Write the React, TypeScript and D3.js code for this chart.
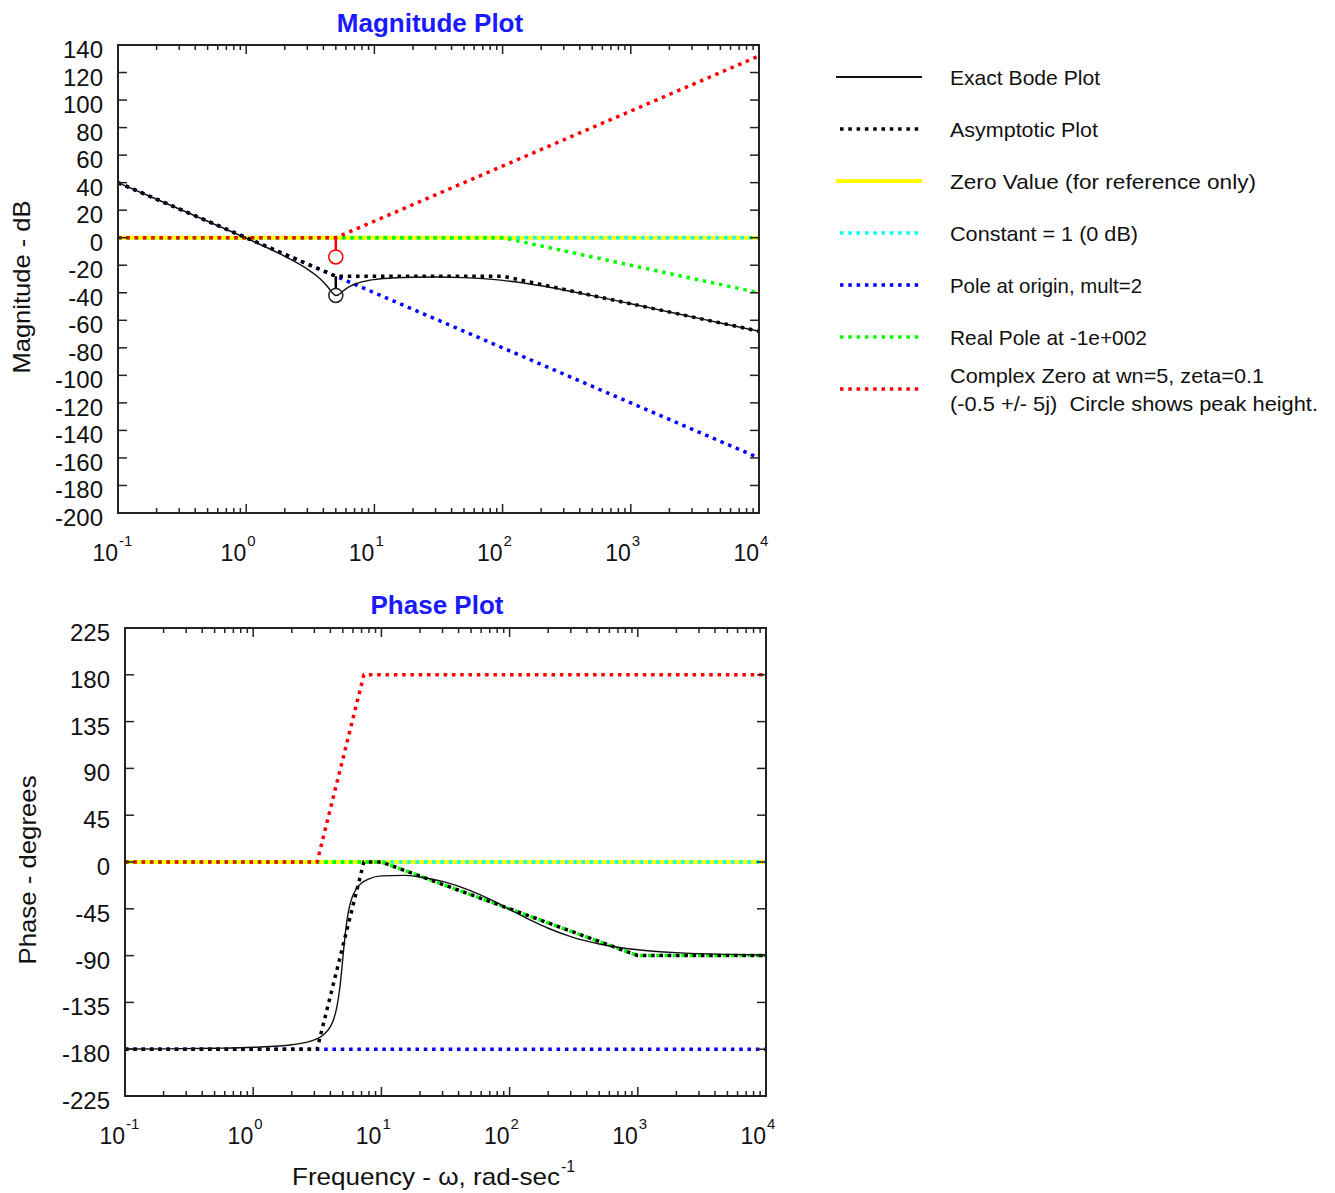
import React from "react";
import * as d3 from "d3";

// ---------------- data ----------------
const exactFreq = [0.1, 0.2, 0.5, 1, 2, 3, 3.5, 4, 4.2, 4.5, 4.7, 4.85, 5, 5.15, 5.3, 5.5, 5.7, 6, 6.5, 7, 8, 10, 15, 20, 30, 50, 70, 100, 150, 200, 300, 500, 1000, 2000, 5000, 10000];
const exactMag = [40.0, 27.95, 11.95, -0.35, -13.52, -22.81, -27.3, -32.17, -34.34, -37.77, -40.0, -41.3, -41.95, -41.84, -41.18, -39.95, -38.72, -37.15, -35.19, -33.82, -32.11, -30.42, -29.05, -28.68, -28.57, -29.02, -29.73, -30.99, -33.09, -34.95, -37.96, -42.11, -48.0, -53.99, -61.94, -67.96];
const exactPhase = [-179.83, -179.65, -179.13, -178.18, -175.71, -171.1, -166.65, -158.33, -152.69, -139.13, -124.45, -109.72, -92.86, -76.48, -62.79, -49.48, -40.53, -32.04, -24.37, -20.26, -16.16, -13.3, -12.82, -14.36, -18.66, -27.73, -35.81, -45.57, -56.69, -63.72, -71.76, -78.8, -84.35, -87.17, -88.85, -89.43];

const asymMagFreq = [0.1, 5, 100, 10000];
const asymMag = [40, -27.96, -27.96, -67.96];
const asymPhaseFreq = [0.1, 3.15, 7.3, 10, 1000, 10000];
const asymPhase = [-180, -180, 0, 0, -90, -90];

const zeroFreq = [0.1, 10000];
const zeroValue = [0, 0];
const constMag = [0, 0];
const constPhase = [0, 0];

const poleOriginFreq = [0.1, 10000];
const poleOriginMag = [40, -160];
const poleOriginPhase = [-180, -180];

const realPoleMagFreq = [0.1, 100, 10000];
const realPoleMag = [0, 0, -40];
const realPolePhaseFreq = [0.1, 10, 1000, 10000];
const realPolePhase = [0, 0, -90, -90];

const cZeroMagFreq = [0.1, 5, 10000];
const cZeroMag = [0, 0, 132.04];
const cZeroPhaseFreq = [0.1, 3.15, 7.3, 10000];
const cZeroPhase = [0, 0, 180, 180];

const peakFreq = 5;
const peakRedFrom = 0;
const peakRedTo = -13.98;
const peakBlackFrom = -27.96;
const peakBlackTo = -41.94;

const magTicks = [140, 120, 100, 80, 60, 40, 20, 0, -20, -40, -60, -80, -100, -120, -140, -160, -180, -200];
const phaseTicks = [225, 180, 135, 90, 45, 0, -45, -90, -135, -180, -225];
const decadeExps = [-1, 0, 1, 2, 3, 4];

const legendLabels = [
  ["Exact Bode Plot"],
  ["Asymptotic Plot"],
  ["Zero Value (for reference only)"],
  ["Constant = 1 (0 dB)"],
  ["Pole at origin, mult=2"],
  ["Real Pole at -1e+002"],
  ["Complex Zero at wn=5, zeta=0.1", "(-0.5 +/- 5j)\u00a0 Circle shows peak height."],
];

// ---------------- layout / style ----------------
const W = 1335;
const H = 1193;
const FONT = "'Liberation Sans', Arial, Helvetica, sans-serif";
const magBox = { x0: 118, x1: 759, y0: 45, y1: 513 };
const phBox = { x0: 125, x1: 766, y0: 628, y1: 1096 };
const DOT = "3.5 4.8";
const DW = 3.5;
const legendWidths = [[150], [148], [306], [188], [192], [197], [314, 368]];

const styles = {
  exact: { stroke: "#111", width: 1.4, dash: undefined },
  asym: { stroke: "#000", width: DW, dash: DOT },
  zero: { stroke: "#ffff00", width: 4, dash: undefined },
  cnst: { stroke: "#00ffff", width: DW, dash: DOT },
  pole: { stroke: "#0000ff", width: DW, dash: DOT },
  real: { stroke: "#00ff00", width: DW, dash: DOT },
  cz: { stroke: "#ff0000", width: DW, dash: DOT },
};
const legendStyles = [styles.exact, styles.asym, styles.zero, styles.cnst, styles.pole, styles.real, styles.cz];

function Panel({ box, yDomain, yTicks, series, id, children }: any) {
  const x = d3.scaleLog().domain([0.1, 10000]).range([box.x0, box.x1]);
  const y = d3.scaleLinear().domain(yDomain).range([box.y1, box.y0]);
  const line = d3
    .line<[number, number]>()
    .x((d) => x(d[0]))
    .y((d) => y(d[1]));
  const smooth = d3
    .line<[number, number]>()
    .x((d) => x(d[0]))
    .y((d) => y(d[1]))
    .curve(d3.curveMonotoneX);

  const minors: number[] = [];
  for (let e = -1; e < 4; e++) for (let m = 2; m <= 9; m++) minors.push(m * Math.pow(10, e));
  const majors = decadeExps.map((e) => Math.pow(10, e));

  return (
    <g>
      <defs>
        <clipPath id={id}>
          <rect x={box.x0} y={box.y0 - 2} width={box.x1 - box.x0} height={box.y1 - box.y0 + 4} />
        </clipPath>
      </defs>
      <g clipPath={`url(#${id})`}>
        {series.map((s: any, i: number) => {
          const pts: [number, number][] = s.f.map((f: number, k: number) => [f, s.v[k]]);
          return (
            <path
              key={i}
              d={(s.smooth ? smooth : line)(pts) || ""}
              fill="none"
              stroke={s.style.stroke}
              strokeWidth={s.style.width}
              strokeDasharray={s.style.dash}
              strokeLinecap="butt"
              strokeLinejoin="round"
            />
          );
        })}
        {children && children(x, y)}
      </g>
      <g stroke="#222" strokeWidth={1.5}>
        {minors.map((v, i) => (
          <g key={"m" + i}>
            <line x1={x(v)} x2={x(v)} y1={box.y1} y2={box.y1 - 5} />
            <line x1={x(v)} x2={x(v)} y1={box.y0} y2={box.y0 + 5} />
          </g>
        ))}
        {majors.map((v, i) => (
          <g key={"M" + i}>
            <line x1={x(v)} x2={x(v)} y1={box.y1} y2={box.y1 - 9} />
            <line x1={x(v)} x2={x(v)} y1={box.y0} y2={box.y0 + 9} />
          </g>
        ))}
        {yTicks.map((t: number, i: number) => (
          <g key={"y" + i}>
            <line x1={box.x0} x2={box.x0 + 9} y1={y(t)} y2={y(t)} />
            <line x1={box.x1} x2={box.x1 - 9} y1={y(t)} y2={y(t)} />
          </g>
        ))}
      </g>
      <rect x={box.x0} y={box.y0} width={box.x1 - box.x0} height={box.y1 - box.y0} fill="none" stroke="#222" strokeWidth={2} />
      <g fontFamily={FONT} fontSize={24} fill="#111" textAnchor="end">
        {yTicks.map((t: number, i: number) => (
          <text key={i} x={box.x0 - 15} y={y(t) + 13}>
            {t < 0 ? "-" + Math.abs(t) : String(t)}
          </text>
        ))}
      </g>
      <g fontFamily={FONT} fill="#111">
        {decadeExps.map((e, i) => (
          <g key={i}>
            <text x={x(Math.pow(10, e))} y={box.y1 + 48} fontSize={23} textAnchor="end">
              10
            </text>
            <text x={x(Math.pow(10, e)) + 1} y={box.y1 + 33} fontSize={15} textAnchor="start">
              {e < 0 ? "-" + Math.abs(e) : String(e)}
            </text>
          </g>
        ))}
      </g>
    </g>
  );
}

export default function App() {
  const magSeries = [
    { f: zeroFreq, v: zeroValue, style: styles.zero },
    { f: zeroFreq, v: constMag, style: styles.cnst },
    { f: poleOriginFreq, v: poleOriginMag, style: styles.pole },
    { f: realPoleMagFreq, v: realPoleMag, style: styles.real },
    { f: cZeroMagFreq, v: cZeroMag, style: styles.cz },
    { f: asymMagFreq, v: asymMag, style: styles.asym },
    { f: exactFreq, v: exactMag, style: styles.exact, smooth: true },
  ];
  const phSeries = [
    { f: zeroFreq, v: zeroValue, style: styles.zero },
    { f: zeroFreq, v: constPhase, style: styles.cnst },
    { f: poleOriginFreq, v: poleOriginPhase, style: styles.pole },
    { f: realPolePhaseFreq, v: realPolePhase, style: styles.real },
    { f: cZeroPhaseFreq, v: cZeroPhase, style: styles.cz },
    { f: asymPhaseFreq, v: asymPhase, style: styles.asym },
    { f: exactFreq, v: exactPhase, style: styles.exact, smooth: true },
  ];
  const R = 7;

  return (
    <svg
      width={W}
      height={H}
      viewBox={`0 0 ${W} ${H}`}
      style={{ position: "absolute", left: 0, top: 0, background: "#fff", display: "block" }}
    >
      <rect x={0} y={0} width={W} height={H} fill="#fff" />
      <text x={430} y={32} fontFamily={FONT} fontWeight="bold" fontSize={26} fill="#1a1aff" textAnchor="middle">
        Magnitude Plot
      </text>
      <text x={437} y={614} fontFamily={FONT} fontWeight="bold" fontSize={26} fill="#1a1aff" textAnchor="middle">
        Phase Plot
      </text>

      <Panel box={magBox} yDomain={[-200, 140]} yTicks={magTicks} series={magSeries} id="clipMag">
        {(x: any, y: any) => (
          <g>
            <line x1={x(peakFreq)} x2={x(peakFreq)} y1={y(peakRedFrom)} y2={y(peakRedTo) - R} stroke="#ff0000" strokeWidth={2.5} />
            <circle cx={x(peakFreq)} cy={y(peakRedTo)} r={R} fill="none" stroke="#ff0000" strokeWidth={1.5} />
            <line x1={x(peakFreq)} x2={x(peakFreq)} y1={y(peakBlackFrom)} y2={y(peakBlackTo) - R} stroke="#000" strokeWidth={2.5} />
            <circle cx={x(peakFreq)} cy={y(peakBlackTo)} r={R} fill="none" stroke="#222" strokeWidth={1.5} />
          </g>
        )}
      </Panel>
      <Panel box={phBox} yDomain={[-225, 225]} yTicks={phaseTicks} series={phSeries} id="clipPh" />

      <text transform="translate(30,287) rotate(-90)" fontFamily={FONT} fontSize={24} fill="#111" textAnchor="middle" textLength={173} lengthAdjust="spacingAndGlyphs">
        Magnitude - dB
      </text>
      <text transform="translate(36,870) rotate(-90)" fontFamily={FONT} fontSize={24} fill="#111" textAnchor="middle" textLength={189} lengthAdjust="spacingAndGlyphs">
        Phase - degrees
      </text>
      <text x={292} y={1185} fontFamily={FONT} fontSize={24} fill="#111" textLength={268} lengthAdjust="spacingAndGlyphs">
        Frequency - ω, rad-sec
      </text>
      <text x={561} y={1172} fontFamily={FONT} fontSize={16} fill="#111">
        -1
      </text>

      <g fontFamily={FONT} fontSize={21} fill="#111">
        {legendLabels.map((lines, i) => {
          const cy = 77 + i * 52;
          const st = legendStyles[i];
          return (
            <g key={i}>
              <line
                x1={st.dash ? 840 : 836}
                x2={st.dash ? 920 : 922}
                y1={cy}
                y2={cy}
                stroke={st.stroke}
                strokeWidth={st.dash ? DW : st === styles.zero ? 4 : 2}
                strokeDasharray={st.dash}
              />
              {lines.map((t, k) => (
                <text
                  key={k}
                  x={950}
                  y={lines.length === 1 ? cy + 8 : cy - 6 + k * 28}
                  textLength={legendWidths[i][k]}
                  lengthAdjust="spacingAndGlyphs"
                >
                  {t}
                </text>
              ))}
            </g>
          );
        })}
      </g>
    </svg>
  );
}
